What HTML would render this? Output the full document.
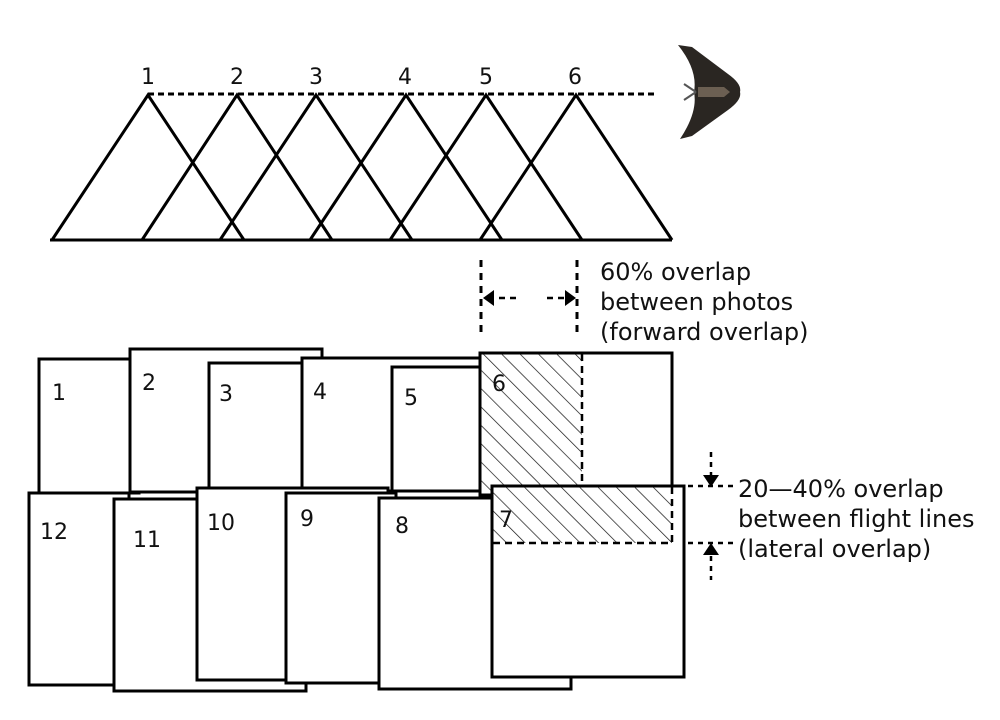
<!DOCTYPE html>
<html><head><meta charset="utf-8"><style>
html,body{margin:0;padding:0;background:#fff}
svg{display:block}
text{font-family:"DejaVu Sans","Liberation Sans",sans-serif;fill:#111}
</style></head><body>
<svg width="1000" height="720" viewBox="0 0 1000 720">
<defs>
<pattern id="h" patternUnits="userSpaceOnUse" width="13" height="13" patternTransform="rotate(-45)">
<line x1="0" y1="0" x2="0" y2="13" stroke="#111" stroke-width="1.4"/>
</pattern>
</defs>
<!-- triangles -->
<g stroke="#000" stroke-width="3" fill="none" stroke-linejoin="miter">
<line x1="50" y1="240" x2="672" y2="240"/>
<polyline points="52,240 148,95 244,240"/>
<polyline points="142,240 237,95 332,240"/>
<polyline points="220,240 316,95 412,240"/>
<polyline points="310,240 406,95 502,240"/>
<polyline points="390,240 486,95 582,240"/>
<polyline points="480,240 576,95 672,240"/>
</g>
<line x1="148" y1="94" x2="656" y2="94" stroke="#000" stroke-width="3" stroke-dasharray="6,4"/>
<g font-size="22" text-anchor="middle">
<text x="148" y="84">1</text><text x="237" y="84">2</text><text x="316" y="84">3</text>
<text x="405" y="84">4</text><text x="486" y="84">5</text><text x="575" y="84">6</text>
</g>
<!-- drone -->
<path d="M678,45 L692,47 L728,74 Q742,84 740,92 Q742,100 728,110 L692,136 L680,139 Q698,112 694,92 Q698,70 678,45 z" fill="#2a2622"/>
<path d="M698,87 L724,87 L730,92 L724,97 L698,97 z" fill="#6b5f52"/>
<line x1="684" y1="84" x2="696" y2="92" stroke="#555" stroke-width="2"/>
<line x1="684" y1="100" x2="696" y2="92" stroke="#555" stroke-width="2"/>
<!-- forward overlap annotation -->
<g stroke="#000" stroke-width="3" stroke-dasharray="7,6">
<line x1="481" y1="260" x2="481" y2="336"/>
<line x1="577" y1="260" x2="577" y2="336"/>
</g>
<g stroke="#000" stroke-width="2.5" fill="none">
<line x1="516" y1="298" x2="490" y2="298" stroke-dasharray="6,5"/>
<line x1="547" y1="298" x2="570" y2="298" stroke-dasharray="6,5"/>
</g>
<path d="M483,298 L494,290 L494,306 z" fill="#000"/>
<path d="M576,298 L565,290 L565,306 z" fill="#000"/>
<g font-size="24">
<text x="600" y="280">60% overlap</text>
<text x="600" y="310">between photos</text>
<text x="600" y="340">(forward overlap)</text>
<text x="738" y="497">20—40% overlap</text>
<text x="738" y="527">between flight lines</text>
<text x="738" y="557">(lateral overlap)</text>
</g>
<!-- rects top row -->
<g stroke="#000" stroke-width="3" fill="#fff">
<rect x="39" y="359" width="100" height="134"/>
<rect x="130" y="349" width="192" height="143"/>
<rect x="209" y="363" width="100" height="128"/>
<rect x="302" y="358" width="185" height="133"/>
<rect x="392" y="367" width="100" height="124"/>
<rect x="480" y="353" width="192" height="142"/>
</g>
<rect x="481" y="354" width="101" height="140" fill="url(#h)"/>
<line x1="582" y1="354" x2="582" y2="486" stroke="#000" stroke-width="2.5" stroke-dasharray="7,5"/>
<!-- bottom row -->
<g stroke="#000" stroke-width="3" fill="#fff">
<rect x="29" y="493" width="100" height="192"/>
<rect x="114" y="499" width="192" height="192"/>
<rect x="197" y="488" width="191" height="192"/>
<rect x="286" y="493" width="110" height="190"/>
<rect x="379" y="498" width="192" height="191"/>
<rect x="492" y="486" width="192" height="191"/>
</g>
<rect x="493" y="487" width="179" height="56" fill="url(#h)"/>
<line x1="493" y1="543" x2="672" y2="543" stroke="#000" stroke-width="2.5" stroke-dasharray="7,5"/>
<line x1="672" y1="487" x2="672" y2="543" stroke="#000" stroke-width="2.5" stroke-dasharray="7,5"/>
<!-- lateral annotation -->
<g stroke="#000" stroke-width="2.5" stroke-dasharray="5,5">
<line x1="688" y1="486" x2="736" y2="486"/>
<line x1="688" y1="543" x2="736" y2="543"/>
<line x1="711" y1="452" x2="711" y2="476"/>
<line x1="711" y1="556" x2="711" y2="580"/>
</g>
<path d="M711,487 L703,475 L719,475 z" fill="#000"/>
<path d="M711,543 L703,555 L719,555 z" fill="#000"/>
<g font-size="22">
<text x="52" y="400">1</text><text x="142" y="390">2</text><text x="219" y="401">3</text>
<text x="313" y="399">4</text><text x="404" y="405">5</text><text x="492" y="391">6</text>
<text x="499" y="527">7</text>
<text x="40" y="539">12</text><text x="133" y="547">11</text><text x="207" y="530">10</text>
<text x="300" y="526">9</text><text x="395" y="533">8</text>
</g>
</svg>
</body></html>
